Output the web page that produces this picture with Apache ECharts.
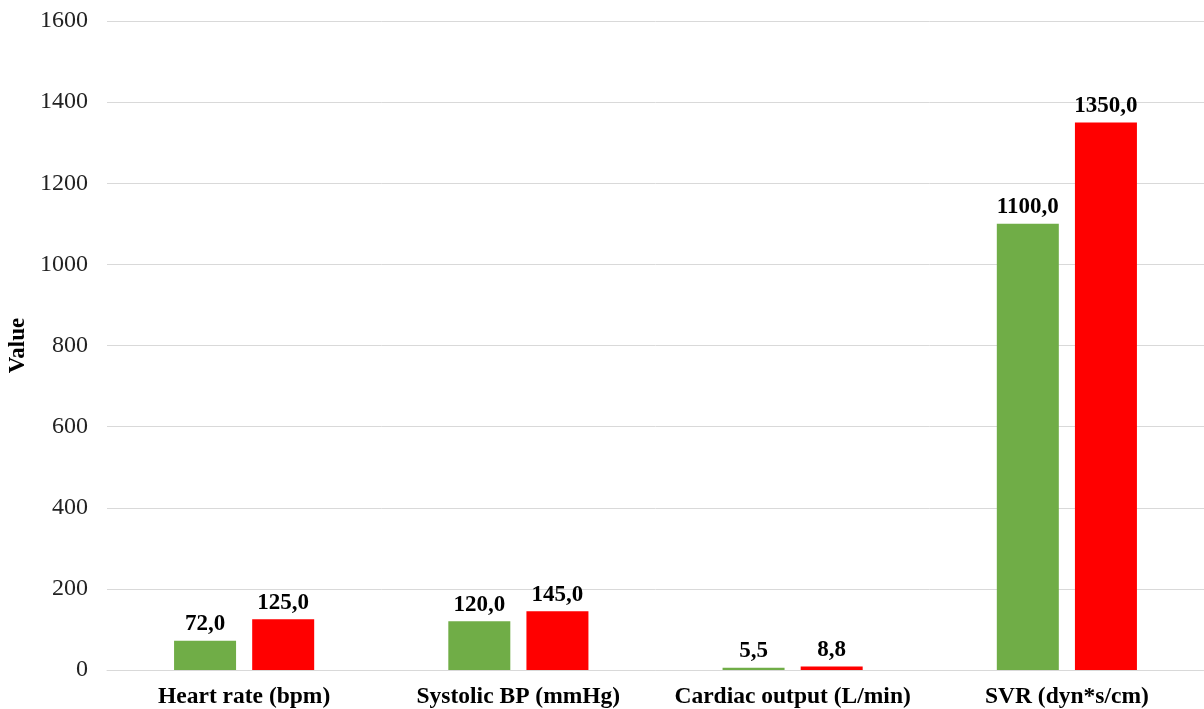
<!DOCTYPE html>
<html>
<head>
<meta charset="utf-8">
<script src="https://cdn.jsdelivr.net/npm/echarts@6/dist/echarts.min.js"></script>
<style>
html,body{margin:0;padding:0;background:#fff;}
#chart{width:1204px;height:709px;}
</style>
</head>
<body>
<div id="chart"></div>
<script>
const categories = ['Heart rate (bpm)', 'Systolic BP (mmHg)', 'Cardiac output (L/min)', 'SVR (dyn*s/cm)'];
const seriesA = [72.0, 120.0, 5.5, 1100.0];
const seriesB = [125.0, 145.0, 8.8, 1350.0];
const yTicks = [0, 200, 400, 600, 800, 1000, 1200, 1400, 1600];

const font = '"Liberation Serif", "Times New Roman", serif';
const chart = echarts.init(document.getElementById('chart'));
const fmt = p => p.value.toFixed(1).replace('.', ',');
const labelStyle = {
  show: true, position: 'top', distance: 5, formatter: fmt,
  fontFamily: font, fontWeight: 'bold', fontSize: 23, color: '#000'
};
chart.setOption({
  animation: false,
  grid: { left: 107, right: 0, top: 21, bottom: 39, containLabel: false, outerBoundsMode: 'none' },
  xAxis: {
    type: 'category', data: categories,
    axisLine: { show: true, lineStyle: { color: '#d9d9d9' } },
    axisTick: { show: false },
    axisLabel: { interval: 0, hideOverlap: false, fontFamily: font, fontWeight: 'bold', fontSize: 23.5, color: '#000', margin: 15 }
  },
  yAxis: {
    type: 'value', min: yTicks[0], max: yTicks[yTicks.length - 1], interval: 200,
    name: 'Value', nameLocation: 'middle', nameGap: 71, nameRotate: 90,
    nameTextStyle: { fontFamily: font, fontWeight: 'bold', fontSize: 23, color: '#000' },
    axisLine: { show: false }, axisTick: { show: false },
    axisLabel: { fontFamily: font, fontSize: 24, color: '#222', margin: 19, formatter: v => String(v) },
    splitLine: { lineStyle: { color: '#d9d9d9', width: 1 } }
  },
  series: [
    { type: 'bar', data: seriesA, barWidth: 62, barGap: '26%',
      itemStyle: { color: '#70AD47' }, label: labelStyle },
    { type: 'bar', data: seriesB, barWidth: 62, barGap: '26%',
      itemStyle: { color: '#FF0000' }, label: labelStyle }
  ]
});
</script>
</body>
</html>
